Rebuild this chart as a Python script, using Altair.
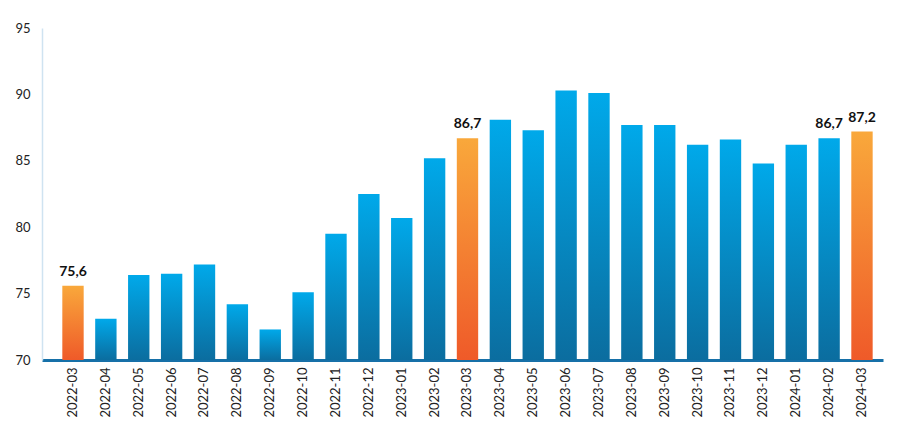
import altair as alt
import pandas as pd

months = ["2022-03", "2022-04", "2022-05", "2022-06", "2022-07", "2022-08", "2022-09",
          "2022-10", "2022-11", "2022-12", "2023-01", "2023-02", "2023-03", "2023-04",
          "2023-05", "2023-06", "2023-07", "2023-08", "2023-09", "2023-10", "2023-11",
          "2023-12", "2024-01", "2024-02", "2024-03"]
values = [75.6, 73.1, 76.4, 76.5, 77.2, 74.2, 72.3, 75.1, 79.5, 82.5, 80.7, 85.2, 86.7,
          88.1, 87.3, 90.3, 90.1, 87.7, 87.7, 86.2, 86.6, 84.8, 86.2, 86.7, 87.2]
highlight = ["2022-03", "2023-03", "2024-03"]
labels = ["75,6", "", "", "", "", "", "", "", "", "", "", "", "86,7",
          "", "", "", "", "", "", "", "", "", "", "86,7", "87,2"]

df = pd.DataFrame({"month": months, "value": values, "label": labels})
df["hl"] = df["month"].isin(highlight)

FONT = "Lato"

x = alt.X("month:N", sort=months, title=None,
          scale=alt.Scale(domain=months, paddingInner=0.35, paddingOuter=0.466, align=0.663),
          axis=alt.Axis(labelAngle=-90, labelFontSize=13, labelColor="#222222",
                        labelFont=FONT, labelPadding=7, ticks=False,
                        domainColor="#1670a8", domainWidth=3))
y = alt.Y("value:Q", title=None,
          scale=alt.Scale(domain=[70, 95], zero=False, nice=False),
          axis=alt.Axis(values=[70, 75, 80, 85, 90, 95], grid=False, ticks=False,
                        labelFontSize=13, labelColor="#222222", labelFont=FONT,
                        labelPadding=12, domainColor="#cfe3f1", domainWidth=1.5))

blue_grad = alt.Gradient(gradient="linear",
                         stops=[alt.GradientStop(color="#00a9ea", offset=0),
                                alt.GradientStop(color="#0b6d9f", offset=1)],
                         x1=0, y1=0, x2=0, y2=1)
orange_grad = alt.Gradient(gradient="linear",
                           stops=[alt.GradientStop(color="#f9a83b", offset=0),
                                  alt.GradientStop(color="#ef5a29", offset=1)],
                           x1=0, y1=0, x2=0, y2=1)

base = alt.Chart(df)

blue = base.transform_filter("!datum.hl").mark_bar(color=blue_grad).encode(
    x=x, y=y, y2=alt.datum(70))
orange = base.transform_filter("datum.hl").mark_bar(color=orange_grad).encode(
    x=x, y=y, y2=alt.datum(70))
text = base.transform_filter("datum.label != ''").mark_text(
    dy=-10, fontSize=14, fontWeight="bold", font=FONT, color="#111111",
    baseline="alphabetic").encode(x=x, y=y, text="label:N")

chart = alt.layer(blue, orange, text).properties(
    width=841, height=332,
    autosize=alt.AutoSizeParams(type="none"),
    padding={"left": 34, "top": 20, "right": 9, "bottom": 77},
).configure_view(stroke=None)

chart.save("out.html", embed_options={"renderer": "svg", "actions": False})
